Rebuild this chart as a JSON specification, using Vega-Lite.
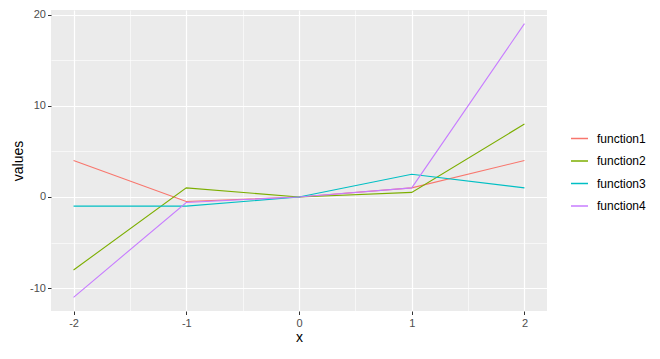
{
  "$schema": "https://vega.github.io/schema/vega-lite/v6.json",
  "autosize": {"type": "none"},
  "padding": {"left": 51, "top": 10, "right": 113, "bottom": 48},
  "width": 496,
  "height": 301,
  "background": "white",
  "config": {
    "font": "Liberation Sans",
    "view": {"fill": "#EBEBEB", "stroke": null},
    "axis": {
      "domain": false,
      "gridColor": "white",
      "tickColor": "#333333",
      "labelColor": "#4D4D4D",
      "labelFontSize": 11,
      "titleFontSize": 14,
      "titleFontWeight": "normal",
      "titleColor": "black",
      "tickSize": 3.5
    }
  },
  "data": {
    "values": [
      {"x": -2, "values": 4, "series": "function1"},
      {"x": -1, "values": -0.5, "series": "function1"},
      {"x": 0, "values": 0, "series": "function1"},
      {"x": 1, "values": 1, "series": "function1"},
      {"x": 2, "values": 4, "series": "function1"},
      {"x": -2, "values": -8, "series": "function2"},
      {"x": -1, "values": 1, "series": "function2"},
      {"x": 0, "values": 0, "series": "function2"},
      {"x": 1, "values": 0.5, "series": "function2"},
      {"x": 2, "values": 8, "series": "function2"},
      {"x": -2, "values": -1, "series": "function3"},
      {"x": -1, "values": -1, "series": "function3"},
      {"x": 0, "values": 0, "series": "function3"},
      {"x": 1, "values": 2.5, "series": "function3"},
      {"x": 2, "values": 1, "series": "function3"},
      {"x": -2, "values": -11, "series": "function4"},
      {"x": -1, "values": -0.6, "series": "function4"},
      {"x": 0, "values": 0, "series": "function4"},
      {"x": 1, "values": 1, "series": "function4"},
      {"x": 2, "values": 19, "series": "function4"}
    ]
  },
  "mark": {"type": "line", "strokeWidth": 1.1},
  "encoding": {
    "x": {
      "field": "x",
      "type": "quantitative",
      "scale": {"domain": [-2.2, 2.2], "nice": false, "zero": false},
      "axis": {
        "values": [-2, -1.5, -1, -0.5, 0, 0.5, 1, 1.5, 2],
        "labelExpr": "datum.value % 1 === 0 ? '' + datum.value : ''",
        "gridWidth": {"condition": {"test": "datum.value % 1 !== 0", "value": 0.6}, "value": 1.2},
        "tickOpacity": {"condition": {"test": "datum.value % 1 !== 0", "value": 0}, "value": 1},
        "labelPadding": 3,
        "titlePadding": 2,
        "title": "x"
      }
    },
    "y": {
      "field": "values",
      "type": "quantitative",
      "scale": {"domain": [-12.5, 20.5], "nice": false, "zero": false},
      "axis": {
        "values": [-10, -5, 0, 5, 10, 15, 20],
        "labelExpr": "datum.value % 10 === 0 ? '' + datum.value : ''",
        "gridWidth": {"condition": {"test": "datum.value % 10 !== 0", "value": 0.6}, "value": 1.2},
        "tickOpacity": {"condition": {"test": "datum.value % 10 !== 0", "value": 0}, "value": 1},
        "labelPadding": 2,
        "titlePadding": 4,
        "title": "values"
      }
    },
    "color": {
      "field": "series",
      "type": "nominal",
      "scale": {"range": ["#F8766D", "#7CAE00", "#00BFC4", "#C77CFF"]},
      "legend": {
        "title": null,
        "orient": "none",
        "legendX": 519,
        "legendY": 119,
        "symbolType": "stroke",
        "symbolSize": 289,
        "symbolStrokeWidth": 1.5,
        "labelFontSize": 12,
        "labelColor": "black",
        "rowPadding": 6.5,
        "labelOffset": 8
      }
    }
  }
}
